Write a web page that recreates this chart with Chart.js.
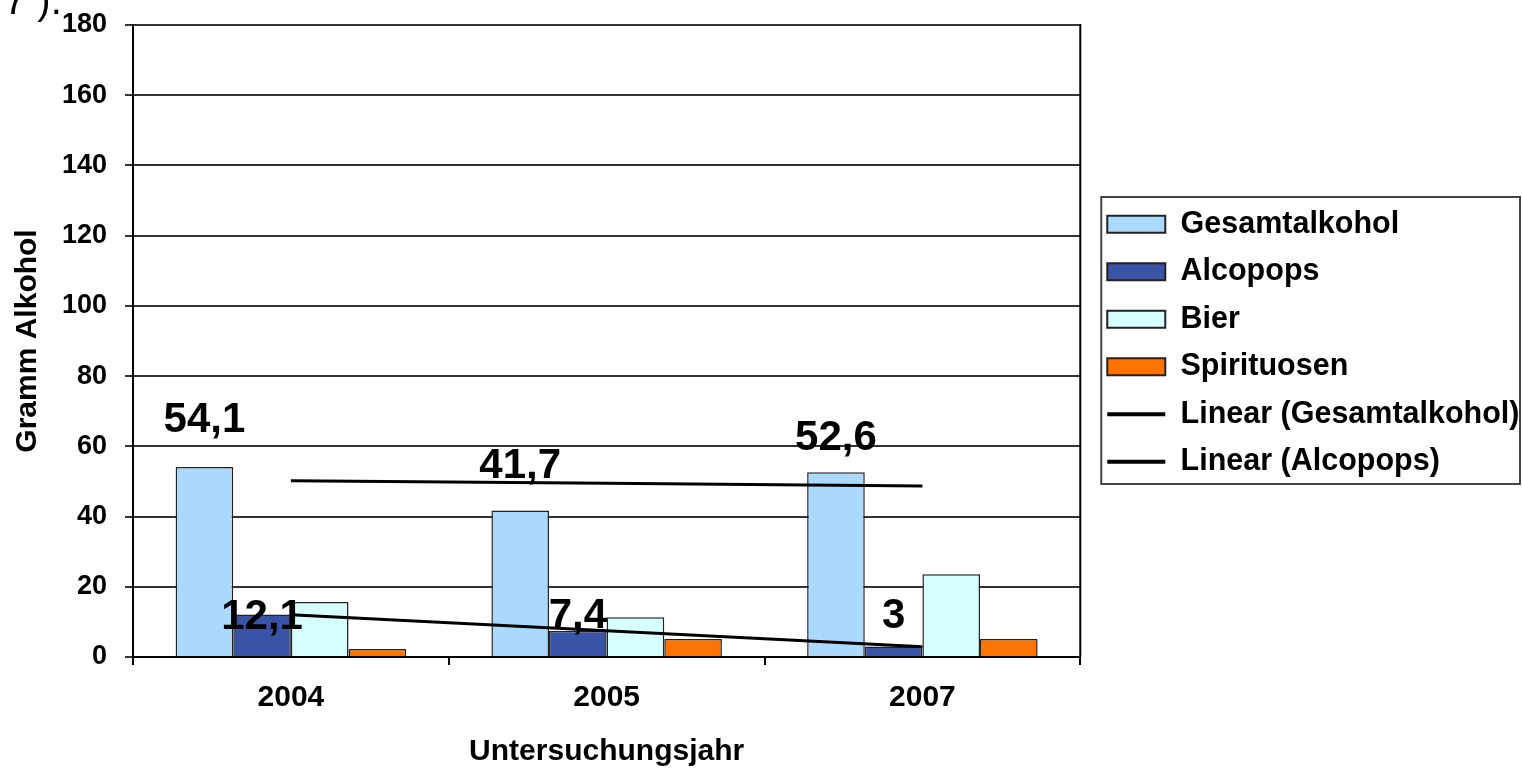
<!DOCTYPE html>
<html><head><meta charset="utf-8">
<script src="https://cdn.jsdelivr.net/npm/chart.js@4.4.0/dist/chart.umd.min.js"></script>
<style>
html,body{margin:0;padding:0;background:#fff;width:1522px;height:770px;overflow:hidden;}
#wrap{position:relative;width:1522px;height:770px;}
#frag{position:absolute;left:4px;top:-22px;font:40px "Liberation Sans",Arial,sans-serif;color:#000;white-space:pre;}
canvas{position:absolute;left:0;top:0;}
</style></head><body>
<div id="wrap"><canvas id="c" width="1522" height="770"></canvas><div id="frag">7 ).</div></div>
<script>
// ---- data ----
const categories = ['2004', '2005', '2007'];
const gesamtalkohol = [54.1, 41.7, 52.6];
const alcopops = [12.1, 7.4, 3];
const bier = [15.7, 11.3, 23.6];
const spirituosen = [2.3, 5.1, 5.1];
const trendGesamtalkohol = [50.2, 49.5, 48.7];
const trendAlcopops = [12.05, 7.5, 2.95];
const labelsGesamtalkohol = ['54,1', '41,7', '52,6'];
const labelsAlcopops = ['12,1', '7,4', '3'];
const yMin = 0, yMax = 180, yStep = 20;

const FAM = '"Liberation Sans", Arial, Helvetica, sans-serif';
const LEGEND_SHIFT = 10;

const valueLabels = {
  id: 'valueLabels',
  afterDatasetsDraw(chart, args, opts) {
    const ctx = chart.ctx;
    ctx.save();
    ctx.font = 'bold 42px ' + FAM;
    ctx.fillStyle = '#000';
    ctx.textAlign = 'center';
    ctx.textBaseline = 'alphabetic';
    opts.items.forEach(item => {
      const meta = chart.getDatasetMeta(item.dataset);
      meta.data.forEach((el, i) => {
        ctx.fillText(item.texts[i], el.x, el.y + item.dy[i]);
      });
    });
    ctx.restore();
  }
};

const legendShift = {
  id: 'legendShift',
  afterLayout(chart) {
    if (chart.legend) {
      chart.legend.left += LEGEND_SHIFT; chart.legend.right += LEGEND_SHIFT;
      chart.legend.top += 2; chart.legend.bottom += 2;
    }
  }
};

const frames = {
  id: 'frames',
  afterDraw(chart) {
    const {ctx, chartArea: a} = chart;
    ctx.save();
    ctx.strokeStyle = '#000';
    ctx.lineWidth = 2;
    ctx.beginPath();
    ctx.moveTo(a.right, a.top - 1);
    ctx.lineTo(a.right, a.bottom);
    ctx.stroke();
    const hb = chart.legend.legendHitBoxes;
    if (hb && hb.length) {
      const left = Math.min(...hb.map(h => h.left)) - 6;
      const top = Math.min(...hb.map(h => h.top)) - 12;
      const bottom = Math.max(...hb.map(h => h.top + h.height)) + 7;
      const right = chart.width - 2;
      ctx.strokeStyle = '#444';
      ctx.lineWidth = 2;
      ctx.strokeRect(left, top, right - left, bottom - top);
    }
    ctx.restore();
  }
};

new Chart(document.getElementById('c'), {
  data: {
    labels: categories,
    datasets: [
      {type: 'bar', label: 'Gesamtalkohol', data: gesamtalkohol, backgroundColor: '#aad9fd', borderColor: '#222', borderWidth: 1.5, order: 1},
      {type: 'bar', label: 'Alcopops', data: alcopops, backgroundColor: '#3953a7', borderColor: '#222', borderWidth: 1.5, order: 1},
      {type: 'bar', label: 'Bier', data: bier, backgroundColor: '#d6ffff', borderColor: '#222', borderWidth: 1.5, order: 1},
      {type: 'bar', label: 'Spirituosen', data: spirituosen, backgroundColor: '#ff7300', borderColor: '#222', borderWidth: 1.5, order: 1},
      {type: 'line', label: 'Linear (Gesamtalkohol)', data: trendGesamtalkohol, borderColor: '#000', borderWidth: 3, pointRadius: 0, tension: 0, order: 0},
      {type: 'line', label: 'Linear (Alcopops)', data: trendAlcopops, borderColor: '#000', borderWidth: 3, pointRadius: 0, tension: 0, order: 0}
    ]
  },
  options: {
    responsive: false,
    animation: false,
    devicePixelRatio: 1,
    layout: {padding: {left: 0, top: 25, right: 2.5, bottom: 0}},
    datasets: {bar: {categoryPercentage: 0.73, barPercentage: 1.0}},
    scales: {
      x: {
        offset: true,
        grid: {display: true, drawOnChartArea: false, drawTicks: true, tickLength: 8, color: '#000', lineWidth: 2, offset: true},
        border: {display: true, color: '#000', width: 2},
        ticks: {font: {family: FAM, size: 30, weight: 'bold'}, color: '#000', padding: 15},
        title: {display: true, text: 'Untersuchungsjahr', font: {family: FAM, size: 30, weight: 'bold'}, color: '#000', padding: {top: 0, bottom: 0}},
        afterFit(s) { s.height = 113; s.paddingLeft = 0; s.paddingRight = 0; }
      },
      y: {
        min: yMin, max: yMax,
        ticks: {stepSize: yStep, font: {family: FAM, size: 27, weight: 'bold'}, color: '#000', padding: 18},
        grid: {color: '#333', lineWidth: 2, tickLength: 8},
        border: {color: '#000', width: 2},
        title: {display: true, text: 'Gramm Alkohol', font: {family: FAM, size: 30, weight: 'bold'}, color: '#000', padding: {top: 10, bottom: 0}},
        afterFit(s) { s.width = 133; s.paddingTop = 0; s.paddingBottom = 0; }
      }
    },
    plugins: {
      tooltip: {enabled: false},
      legend: {
        position: 'right', fullSize: false, align: 'center', maxWidth: 460,
        labels: {
          font: {family: FAM, size: 30.5, weight: 'bold'}, color: '#000',
          usePointStyle: true, pointStyleWidth: 58, boxHeight: 17, padding: 17,
          generateLabels(chart) {
            return chart.data.datasets.map((ds, i) => {
              const isLine = ds.type === 'line';
              return {
                text: ds.label,
                fillStyle: isLine ? '#000' : ds.backgroundColor,
                strokeStyle: isLine ? '#000' : '#222',
                lineWidth: isLine ? 4 : 2,
                pointStyle: isLine ? 'line' : 'rect',
                datasetIndex: i, hidden: false, fontColor: '#000'
              };
            });
          }
        }
      },
      valueLabels: {
        items: [
          {dataset: 0, texts: labelsGesamtalkohol, dy: [-35, -33, -22]},
          {dataset: 1, texts: labelsAlcopops, dy: [14, -3, -18]}
        ]
      }
    }
  },
  plugins: [valueLabels, legendShift, frames]
});
</script>
</body></html>
